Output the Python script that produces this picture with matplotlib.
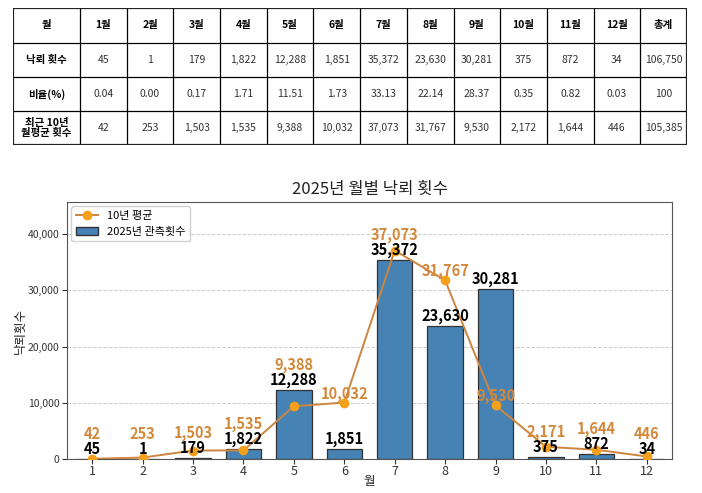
import numpy as np
import matplotlib
matplotlib.use("Agg")
from matplotlib import pyplot as plt
from matplotlib.lines import Line2D
from matplotlib.patches import Patch

plt.rcParams['font.family'] = ['Noto Sans CJK KR', 'DejaVu Sans']

# data
months = list(range(1, 13))
obs_2025 = [45, 1, 179, 1822, 12288, 1851, 35372, 23630, 30281, 375, 872, 34]
avg_10y = [42, 253, 1503, 1535, 9388, 10032, 37073, 31767, 9530, 2171, 1644, 446]
ratio = [0.04, 0.00, 0.17, 1.71, 11.51, 1.73, 33.13, 22.14, 28.37, 0.35, 0.82, 0.03]
avg_table = [42, 253, 1503, 1535, 9388, 10032, 37073, 31767, 9530, 2172, 1644, 446]
total_obs = 106750
total_ratio = 100
total_avg = 105385

header = ['월'] + ['%d월' % m for m in months] + ['총계']
row_names = ['낙뢰 횟수', '비율(%)', '최근 10년\n월평균 횟수']

bar_color = '#4682B4'
line_color = '#CD853F'
marker_color = '#F5A01A'
label_color = '#D4883A'

fig = plt.figure(figsize=(7.02, 4.93), dpi=100)

# ---- table at the top ----
tax = fig.add_axes([13 / 702, 1 - 145 / 493, 674 / 702, 137 / 493])
tax.set_xlim(0, 674)
tax.set_ylim(137, 0)
tax.axis('off')

col_w = [67] + [(674 - 67) / 13] * 13
col_x = np.concatenate([[0], np.cumsum(col_w)])
row_y = [0, 34.5, 69, 103, 137]

rows = [
    header,
    [row_names[0]] + ['{:,}'.format(v) for v in obs_2025] + ['{:,}'.format(total_obs)],
    [row_names[1]] + ['%.2f' % v for v in ratio] + [str(total_ratio)],
    [row_names[2]] + ['{:,}'.format(v) for v in avg_table] + ['{:,}'.format(total_avg)],
]

for x in col_x[1:-1]:
    tax.plot([x, x], [0, 137], color='black', lw=0.9)
for y in row_y[1:-1]:
    tax.plot([0, 674], [y, y], color='black', lw=0.9)
tax.plot([0, 674, 674, 0, 0], [0, 0, 137, 137, 0], color='#222222', lw=1.6)

for r, row in enumerate(rows):
    yc = (row_y[r] + row_y[r + 1]) / 2
    for c, txt in enumerate(row):
        xc = (col_x[c] + col_x[c + 1]) / 2
        bold = (r == 0) or (c == 0)
        tax.text(xc, yc, txt, ha='center', va='center',
                 fontsize=7.5, fontweight='bold' if bold else 'normal',
                 color='black' if bold else '#333333', linespacing=1.1)

# ---- chart ----
ax = fig.add_axes([67 / 702, 34 / 493, 605 / 702, 257 / 493])
ax.bar(months, obs_2025, width=0.7, color=bar_color, edgecolor='#333333',
       linewidth=0.9, zorder=2)
ax.plot(months, avg_10y, color=line_color, lw=1.4, marker='o', markersize=6,
        markerfacecolor=marker_color, markeredgecolor=marker_color, zorder=3)

for m, b, a in zip(months, obs_2025, avg_10y):
    ax.annotate('{:,}'.format(b), (m, b), xytext=(0, 7), textcoords='offset points',
                ha='center', va='center', fontsize=10.5, fontweight='bold',
                color='black', zorder=4)
    if abs(a - b) < 3000:
        ax.annotate('{:,}'.format(a), (m, b), xytext=(0, 18), textcoords='offset points',
                    ha='center', va='center', fontsize=10.5, fontweight='bold',
                    color=label_color, zorder=4)
    else:
        ax.annotate('{:,}'.format(a), (m, a), xytext=(0, 6.5), textcoords='offset points',
                    ha='center', va='center', fontsize=10.5, fontweight='bold',
                    color=label_color, zorder=4)

ax.set_xlim(0.5, 12.5)
ax.set_ylim(0, 45700)
ax.set_xticks(months)
ax.set_yticks([0, 10000, 20000, 30000, 40000])
ax.set_yticklabels(['0', '10,000', '20,000', '30,000', '40,000'])
ax.tick_params(axis='y', labelsize=7.5, colors='#333333', pad=2)
ax.tick_params(axis='x', labelsize=9, colors='#333333', pad=0.5)
ax.grid(axis='y', linestyle='--', color='#cccccc', linewidth=0.7)
ax.set_axisbelow(True)
for s in ax.spines.values():
    s.set_color('#555555')

ax.set_title('2025년 월별 낙뢰 횟수', fontsize=12, color='#222222')
ax.set_xlabel('월', fontsize=9, color='#222222', labelpad=-2)
ax.set_ylabel('낙뢰횟수', fontsize=9, color='#222222', labelpad=1)

handles = [
    Line2D([], [], color=line_color, lw=1.4, marker='o', markersize=6,
           markerfacecolor=marker_color, markeredgecolor=marker_color),
    Patch(facecolor=bar_color, edgecolor='#333333'),
]
ax.legend(handles, ['10년 평균', '2025년 관측횟수'], loc='upper left', fontsize=8,
          framealpha=0.9, borderaxespad=0.4)

fig.savefig('out.png', dpi=100)
